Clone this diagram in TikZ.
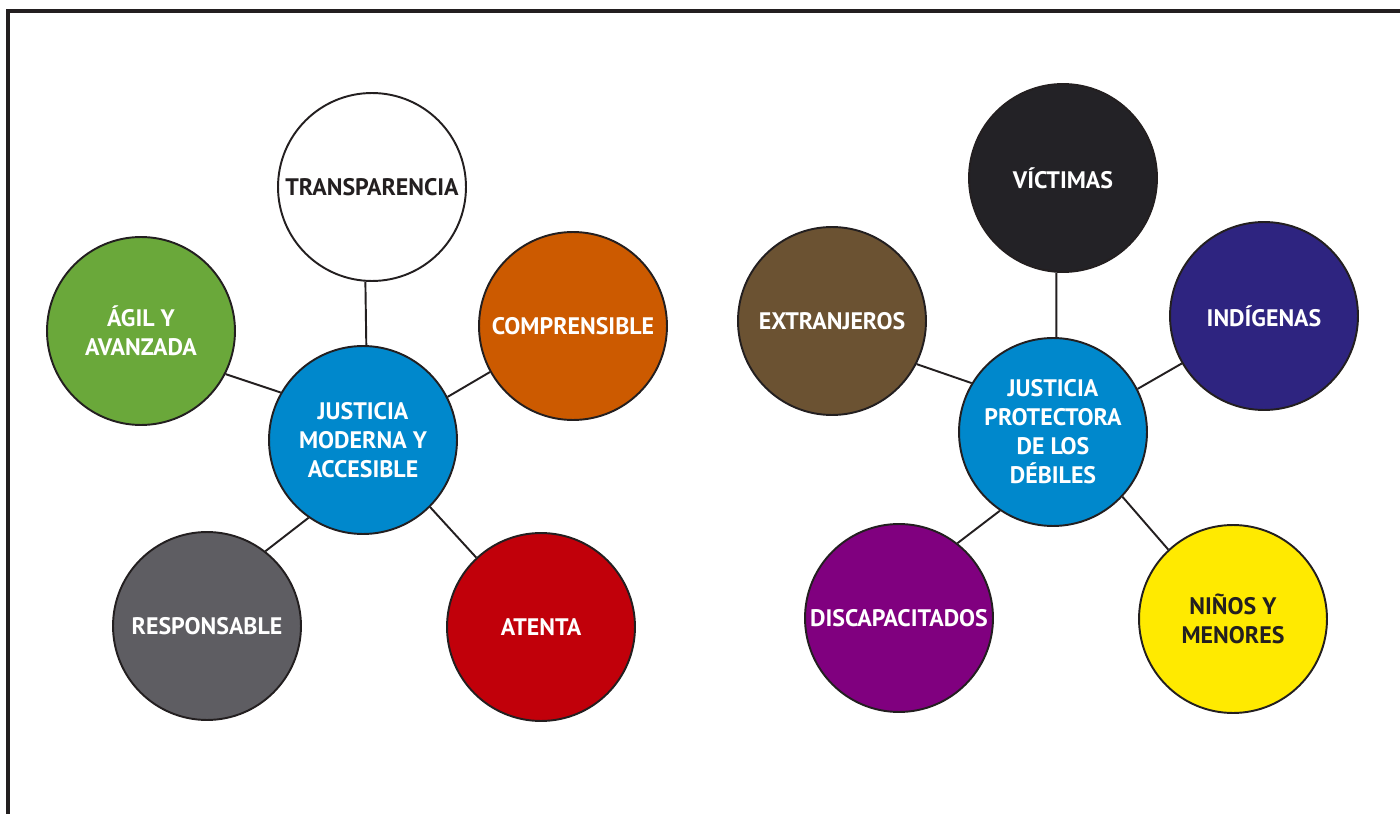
\documentclass[tikz,border=0pt]{standalone}
\usepackage{fontspec}
\setmainfont{PT Sans}
\usetikzlibrary{positioning}
\definecolor{jblue}{RGB}{0, 136, 204}
\definecolor{jgreen}{RGB}{106, 168, 58}
\definecolor{jorange}{RGB}{204, 90, 0}
\definecolor{jgray}{RGB}{94, 93, 98}
\definecolor{jred}{RGB}{193, 0, 10}
\definecolor{jbrown}{RGB}{107, 82, 50}
\definecolor{jblack}{RGB}{35, 34, 38}
\definecolor{jindigo}{RGB}{46, 36, 128}
\definecolor{jpurple}{RGB}{128, 0, 127}
\definecolor{jyellow}{RGB}{255, 234, 0}
\definecolor{jink}{RGB}{35, 31, 32}

\begin{document}
\begin{tikzpicture}[x=0.02cm, y=-0.02cm]
            \tikzstyle{bubble} = [circle, draw=jink, line width=1.1pt, minimum size=3.76cm, inner sep=0pt, align=center, text=white, font=\fontsize{13.6}{16.5}\selectfont\bfseries]
            \tikzstyle{link} = [draw=jink, line width=1.1pt]

            \clip (0,0) rectangle (1400,814);
            \draw[jink, line width=2pt] (8,11) rectangle (1430,850);

            % justicia moderna
            \node[bubble, fill=jblue] (mod) at (363,440) {JUSTICIA\\MODERNA Y\\ACCESIBLE};
            \node[bubble, fill=white, text=jink] (tra) at (372,187) {TRANSPARENCIA};
            \node[bubble, fill=jorange] (com) at (573,326) {COMPRENSIBLE};
            \node[bubble, fill=jgreen] (agi) at (141,331) {ÁGIL Y\\AVANZADA};
            \node[bubble, fill=jgray] (res) at (207,626) {RESPONSABLE};
            \node[bubble, fill=jred] (ate) at (541,627) {ATENTA};

            % justicia protectora
            \node[bubble, fill=jblue] (pro) at (1053,432) {JUSTICIA\\PROTECTORA\\DE LOS\\DÉBILES};
            \node[bubble, fill=jblack] (vic) at (1063,178) {VÍCTIMAS};
            \node[bubble, fill=jindigo] (ind) at (1264,316) {INDÍGENAS};
            \node[bubble, fill=jbrown] (ext) at (832,321) {EXTRANJEROS};
            \node[bubble, fill=jpurple] (dis) at (899,618) {DISCAPACITADOS};
            \node[bubble, fill=jyellow, text=jink] (nin) at (1233,619) {NIÑOS Y\\MENORES};

            \draw[link] (mod.88) -- (tra.266);
            \draw[link] (mod.27) -- (com.209);
            \draw[link] (mod.150) -- (agi.-27);
            \draw[link] (mod.235) -- (res.52);
            \draw[link] (mod.-45) -- (ate.133);
            \draw[link] (pro.88) -- (vic.266);
            \draw[link] (pro.27) -- (ind.210);
            \draw[link] (pro.149) -- (ext.-27);
            \draw[link] (pro.236) -- (dis.52);
            \draw[link] (pro.-43) -- (nin.133);
        \end{tikzpicture}
\end{document}
